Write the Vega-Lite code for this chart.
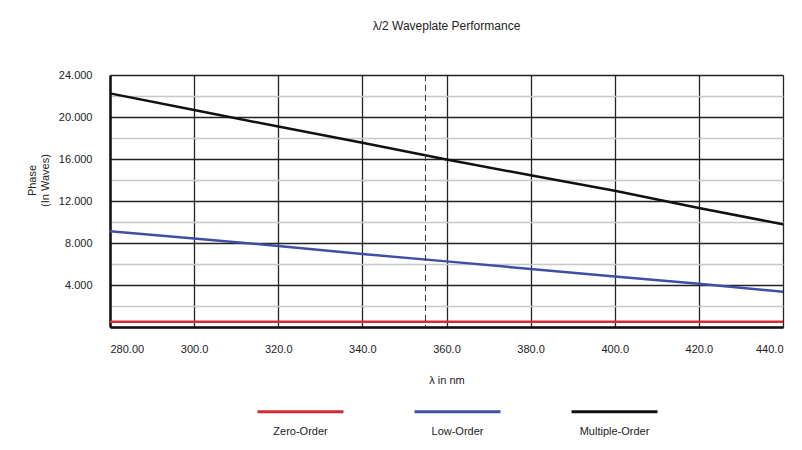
{
  "$schema": "https://vega.github.io/schema/vega-lite/v6.json",
  "width": 673,
  "height": 252,
  "autosize": {"type": "none"},
  "padding": {"left": 110, "top": 75, "right": 19, "bottom": 123},
  "background": "white",
  "config": {"font": "Liberation Sans", "view": {"stroke": null}},
  "title": {"text": "λ/2 Waveplate Performance", "fontSize": 12, "fontWeight": "normal", "color": "#222222", "offset": 36, "anchor": "middle"},
  "datasets": {
    "curves": [
      {"wavelength": 280, "phase": 0.5, "order": "Zero-Order"},
      {"wavelength": 440, "phase": 0.5, "order": "Zero-Order"},
      {"wavelength": 280, "phase": 9.12, "order": "Low-Order"},
      {"wavelength": 300, "phase": 8.42, "order": "Low-Order"},
      {"wavelength": 320, "phase": 7.72, "order": "Low-Order"},
      {"wavelength": 340, "phase": 6.95, "order": "Low-Order"},
      {"wavelength": 360, "phase": 6.25, "order": "Low-Order"},
      {"wavelength": 380, "phase": 5.53, "order": "Low-Order"},
      {"wavelength": 400, "phase": 4.81, "order": "Low-Order"},
      {"wavelength": 420, "phase": 4.11, "order": "Low-Order"},
      {"wavelength": 440, "phase": 3.35, "order": "Low-Order"},
      {"wavelength": 280, "phase": 22.25, "order": "Multiple-Order"},
      {"wavelength": 300, "phase": 20.67, "order": "Multiple-Order"},
      {"wavelength": 320, "phase": 19.09, "order": "Multiple-Order"},
      {"wavelength": 340, "phase": 17.54, "order": "Multiple-Order"},
      {"wavelength": 360, "phase": 15.95, "order": "Multiple-Order"},
      {"wavelength": 380, "phase": 14.45, "order": "Multiple-Order"},
      {"wavelength": 400, "phase": 12.98, "order": "Multiple-Order"},
      {"wavelength": 420, "phase": 11.33, "order": "Multiple-Order"},
      {"wavelength": 440, "phase": 9.78, "order": "Multiple-Order"}
    ],
    "marker": [{"wavelength": 355}]
  },
  "layer": [
    {
      "data": {"name": "curves"},
      "mark": {"type": "line", "strokeWidth": 2.5},
      "encoding": {
        "x": {
          "field": "wavelength", "type": "quantitative",
          "scale": {"domain": [280, 440], "nice": false, "zero": false},
          "axis": {
            "values": [280, 300, 320, 340, 360, 380, 400, 420, 440],
            "grid": true, "gridColor": "#222222", "gridWidth": 1.3,
            "domain": true, "domainColor": "#111111", "domainWidth": 2.5,
            "ticks": false,
            "labelExpr": "datum.value == 280 ? '280.00' : format(datum.value, '.1f')",
            "labelFontSize": 11, "labelColor": "#222222", "labelPadding": 16,
            "title": "λ in nm", "titleFontSize": 11, "titleFontWeight": "normal", "titleColor": "#222222", "titlePadding": 20
          }
        },
        "y": {
          "field": "phase", "type": "quantitative",
          "scale": {"domain": [0, 24], "nice": false},
          "axis": {
            "values": [0, 2, 4, 6, 8, 10, 12, 14, 16, 18, 20, 22, 24],
            "grid": true,
            "gridColor": {"condition": {"test": "datum.value % 4 === 0", "value": "#222222"}, "value": "#c8c8c8"},
            "gridWidth": 1.3,
            "domain": true, "domainColor": "#111111", "domainWidth": 2.5,
            "ticks": false,
            "labelExpr": "datum.value % 4 === 0 && datum.value > 0 ? format(datum.value, '.3f') : ''",
            "labelFontSize": 11, "labelColor": "#222222", "labelPadding": 18,
            "title": ["Phase", "(In Waves)"], "titleFontSize": 11, "titleFontWeight": "normal", "titleColor": "#222222",
            "titleX": -73, "titleY": 105
          }
        },
        "color": {
          "field": "order", "type": "nominal",
          "scale": {"domain": ["Zero-Order", "Low-Order", "Multiple-Order"], "range": ["#d42a35", "#3f4fa8", "#111111"]},
          "legend": {
            "title": null, "orient": "none", "direction": "horizontal",
            "legendX": 146, "legendY": 292, "padding": 0,
            "symbolType": "stroke", "symbolSize": 7396, "symbolStrokeWidth": 3,
            "labelFontSize": 11, "labelColor": "#222222", "labelOffset": 0,
            "labelAlign": "center", "labelBaseline": "top",
            "columnPadding": 58,
            "encode": {"labels": {"update": {"dx": {"value": -44.5}, "dy": {"value": 14}}}}
          }
        }
      }
    },
    {
      "data": {"name": "marker"},
      "mark": {"type": "rule", "strokeDash": [6, 4], "color": "#333333", "strokeWidth": 1},
      "encoding": {"x": {"field": "wavelength", "type": "quantitative"}}
    }
  ]
}
